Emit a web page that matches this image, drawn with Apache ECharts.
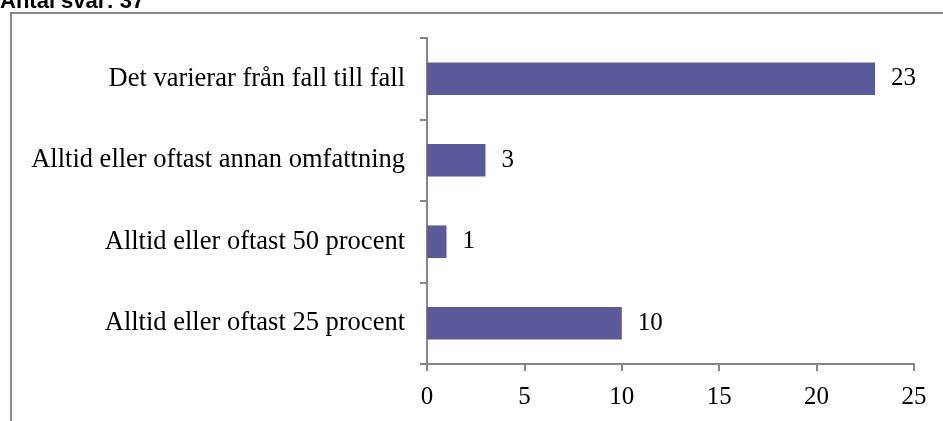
<!DOCTYPE html>
<html><head><meta charset="utf-8">
<script src="https://cdn.jsdelivr.net/npm/echarts@6/dist/echarts.min.js"></script>
<style>html,body{margin:0;padding:0;background:#fff}#c{width:943px;height:421px}</style>
</head><body><div id="c"></div>
<script>
const categories = ["Alltid eller oftast 25 procent", "Alltid eller oftast 50 procent", "Alltid eller oftast annan omfattning", "Det varierar från fall till fall"];
const values = [10, 1, 3, 23];
const xTicks = [0, 5, 10, 15, 20, 25];
const titleText = "Antal svar: 37";

const chart = echarts.init(document.getElementById('c'), null, {renderer: 'canvas'});
const axisColor = '#868686';
const font = '"Liberation Serif", "Times New Roman", serif';
chart.setOption({
  animation: false,
  graphic: [
    {type: 'rect', shape: {x: 11, y: 13, width: 960, height: 460}, style: {fill: 'none', stroke: '#8a8a8a', lineWidth: 2}},
    {type: 'text', left: 0, top: -9, style: {text: titleText, font: 'bold 22px "Liberation Sans", Arial, sans-serif', fill: '#000'}}
  ],
  grid: {left: 427, right: 29, top: 38, bottom: 57},
  xAxis: {
    type: 'value', min: xTicks[0], max: xTicks[xTicks.length - 1], interval: 5,
    axisLine: {show: true, lineStyle: {color: axisColor, width: 2}},
    axisTick: {show: true, length: 7, lineStyle: {color: axisColor, width: 2}},
    axisLabel: {color: '#000', fontFamily: font, fontSize: 25, margin: 21},
    splitLine: {show: false}
  },
  yAxis: {
    type: 'category', data: categories,
    axisLine: {show: true, lineStyle: {color: axisColor, width: 2}},
    axisTick: {show: true, length: 7, lineStyle: {color: axisColor, width: 2}},
    axisLabel: {color: '#000', fontFamily: font, fontSize: 26.5, margin: 22}
  },
  series: [{
    type: 'bar', data: values, barCategoryGap: '60%',
    itemStyle: {color: '#5a5a98'},
    label: {show: true, position: 'right', distance: 16, color: '#000', fontFamily: font, fontSize: 25}
  }]
});
</script></body></html>
